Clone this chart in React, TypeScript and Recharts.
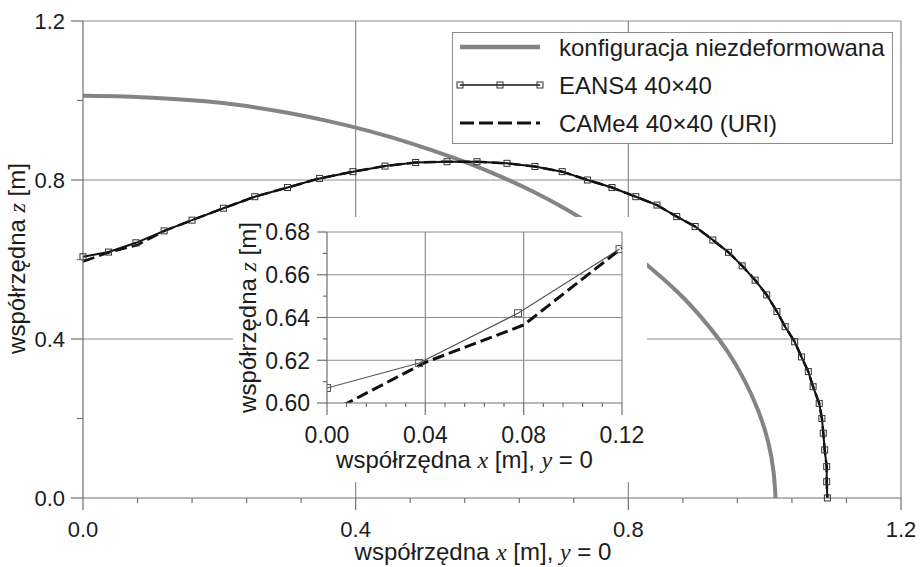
import React from 'react';
import { LineChart, Line, XAxis, YAxis, ReferenceLine, Legend, Label } from 'recharts';

const SANS = '"Liberation Sans", Arial, Helvetica, sans-serif';
const SERIF = '"Liberation Serif", "Times New Roman", serif';
const INK = '#1c1c1c';
const AXIS = '#707070';
const GRID = '#8c8c8c';
const REF_GRAY = '#848484';

// Series names
const NAME_REF = 'konfiguracja niezdeformowana';
const NAME_EANS = 'EANS4 40×40';
const NAME_CAME = 'CAMe4 40×40 (URI)';

// Main chart ticks
const mainXMajor = [0, 0.4, 0.8, 1.2];
const mainXMinor = [0.08, 0.16, 0.24, 0.32, 0.48, 0.56, 0.64, 0.72, 0.88, 0.96, 1.04, 1.12];
const mainYMajor = [0, 0.4, 0.8, 1.2];
const mainYMinor = [0.2, 0.6, 1.0];

// Inset ticks
const insetXMajor = [0, 0.04, 0.08, 0.12];
const insetXMinor = [0.008, 0.016, 0.024, 0.032, 0.048, 0.056, 0.064, 0.072, 0.088, 0.096, 0.104, 0.112];
const insetYMajor = [0.6, 0.62, 0.64, 0.66, 0.68];
const insetYMinor = [0.61, 0.63, 0.65, 0.67];

// Undeformed edge (quarter circle)
const refX = [
  0, 0.06, 0.12, 0.18, 0.24, 0.3, 0.36, 0.42, 0.48, 0.54, 0.6, 0.66,
  0.71, 0.76, 0.8, 0.84, 0.88, 0.915, 0.945, 0.97, 0.99, 1.005, 1.013, 1.016,
];
const refZ = [
  1.012, 1.01, 1.005, 0.998, 0.986, 0.969, 0.948, 0.923, 0.893, 0.858, 0.818, 0.771,
  0.725, 0.672, 0.624, 0.568, 0.505, 0.438, 0.37, 0.297, 0.222, 0.142, 0.066, 0.0,
];

// EANS4 40x40 nodes along the deformed edge
const eansX = [
  0, 0.0375, 0.0777, 0.119, 0.16, 0.206, 0.252, 0.3, 0.347, 0.396, 0.443, 0.488, 0.534, 0.578,
  0.622, 0.663, 0.703, 0.74, 0.776, 0.811, 0.842, 0.871, 0.898, 0.924, 0.947, 0.967, 0.986,
  1.003, 1.018, 1.03, 1.044, 1.054, 1.064, 1.071, 1.08, 1.084, 1.086, 1.088, 1.091, 1.091, 1.092,
];
const eansZ = [
  0.607, 0.6187, 0.642, 0.672, 0.699, 0.729, 0.758, 0.781, 0.804, 0.821, 0.835, 0.844, 0.846, 0.846,
  0.842, 0.834, 0.821, 0.8, 0.781, 0.758, 0.737, 0.708, 0.683, 0.649, 0.618, 0.584, 0.548,
  0.511, 0.469, 0.431, 0.393, 0.355, 0.318, 0.28, 0.238, 0.2, 0.163, 0.121, 0.079, 0.041, 0.0,
];

// CAMe4 40x40 (URI): first nodes near the symmetry axis, the rest coincides with EANS4
const cameHeadX = [0, 0.04, 0.08, 0.12];
const cameHeadZ = [0.595, 0.619, 0.6365, 0.6725];

const zip = (xs: number[], zs: number[]) => xs.map((x, i) => ({ x, z: zs[i] }));

const refData = zip(refX, refZ);
const eansData = zip(eansX, eansZ);
const cameHead = zip(cameHeadX, cameHeadZ);
const cameData = [...cameHead, ...eansData.slice(cameHead.length)];
const eansInset = eansData.slice(0, 4);

const isIn = (v: number, arr: number[]) => arr.some((a) => Math.abs(a - v) < 1e-9);
const sorted = (a: number[], b: number[]) => [...a, ...b].sort((p, q) => p - q);

type TickOpts = { majors: number[]; digits: number; major: number; minor: number; fontSize: number; offset: number };

const bottomTick = (o: TickOpts) => (props: any) => {
  const { x, y, payload } = props;
  const major = isIn(payload.value, o.majors);
  return (
    <g>
      <line x1={x} x2={x} y1={y} y2={y + (major ? o.major : o.minor)} stroke={AXIS} strokeWidth={1.2} />
      {major && (
        <text x={x} y={y + o.offset} textAnchor="middle" fontFamily={SANS} fontSize={o.fontSize} fill={INK}>
          {Number(payload.value).toFixed(o.digits)}
        </text>
      )}
    </g>
  );
};

const leftTick = (o: TickOpts) => (props: any) => {
  const { x, y, payload } = props;
  const major = isIn(payload.value, o.majors);
  return (
    <g>
      <line x1={x} x2={x - (major ? o.major : o.minor)} y1={y} y2={y} stroke={AXIS} strokeWidth={1.2} />
      {major && (
        <text x={x - o.offset} y={y + 0.36 * o.fontSize} textAnchor="end" fontFamily={SANS} fontSize={o.fontSize} fill={INK}>
          {Number(payload.value).toFixed(o.digits)}
        </text>
      )}
    </g>
  );
};

const Italic = ({ children }: { children: React.ReactNode }) => (
  <tspan fontFamily={SERIF} fontStyle="italic">
    {children}
  </tspan>
);

const xTitle = (dx: number, dy: number) => (props: any) => {
  const vb = props.viewBox;
  return (
    <text x={vb.x + vb.width / 2 + dx} y={vb.y + dy} textAnchor="middle" fontFamily={SANS} fontSize={24} fill={INK}>
      współrzędna{' '}
      <Italic>x</Italic>
      {' [m], '}
      <Italic>y</Italic>
      {' = 0'}
    </text>
  );
};

const yTitle = (bx: number, dy: number) => (props: any) => {
  const vb = props.viewBox;
  const cx = vb.x + bx;
  const cy = vb.y + vb.height / 2 + dy;
  return (
    <text x={cx} y={cy} transform={`rotate(-90, ${cx}, ${cy})`} textAnchor="middle" fontFamily={SANS} fontSize={24} fill={INK}>
      współrzędna{' '}
      <Italic>z</Italic>
      {' [m]'}
    </text>
  );
};

const squareDot = (size: number, stroke: string) => (p: any) => (
  <rect key={`sq-${p.index}`} x={p.cx - size / 2} y={p.cy - size / 2} width={size} height={size} fill="none" stroke={stroke} strokeWidth={1} />
);

const LegendBox = () => {
  const rows = [NAME_REF, NAME_EANS, NAME_CAME];
  const centers = [15, 53, 91];
  return (
    <svg width={442} height={113} style={{ display: 'block' }}>
      <rect x={0.5} y={0.5} width={440} height={111} fill="#fff" stroke={GRID} strokeWidth={1} />
      <line x1={8} x2={88} y1={centers[0]} y2={centers[0]} stroke={REF_GRAY} strokeWidth={4.5} />
      <line x1={8} x2={88} y1={centers[1]} y2={centers[1]} stroke="#111" strokeWidth={1.5} />
      {[8, 48, 88].map((x) => (
        <rect key={x} x={x - 3} y={centers[1] - 3} width={6} height={6} fill="none" stroke="#333" strokeWidth={1} />
      ))}
      <line x1={8} x2={88} y1={centers[2]} y2={centers[2]} stroke="#111" strokeWidth={3} strokeDasharray="14 5" />
      {rows.map((r, i) => (
        <text key={r} x={107} y={centers[i] + 8.5} fontFamily={SANS} fontSize={24} fill={INK}>
          {r}
        </text>
      ))}
    </svg>
  );
};

export default function App() {
  return (
    <div style={{ position: 'absolute', left: 0, top: 0, width: 920, height: 567, background: '#fff', overflow: 'hidden' }}>
      <LineChart width={920} height={567} margin={{ top: 21, right: 19, left: 0, bottom: 0 }}>
        <XAxis
          type="number"
          dataKey="x"
          domain={[0, 1.2]}
          ticks={sorted(mainXMajor, mainXMinor)}
          interval={0}
          tickSize={0}
          tickMargin={0}
          tickLine={false}
          axisLine={{ stroke: AXIS, strokeWidth: 1.2 }}
          height={69}
          tick={bottomTick({ majors: mainXMajor, digits: 1, major: 12, minor: 5, fontSize: 22, offset: 39 })}
        >
          <Label content={xTitle(-9, 62)} />
        </XAxis>
        <YAxis
          type="number"
          domain={[0, 1.2]}
          ticks={sorted(mainYMajor, mainYMinor)}
          interval={0}
          tickSize={0}
          tickMargin={0}
          tickLine={false}
          axisLine={{ stroke: AXIS, strokeWidth: 1.2 }}
          width={83}
          tick={leftTick({ majors: mainYMajor, digits: 1, major: 12, minor: 6, fontSize: 22, offset: 18 })}
        >
          <Label content={yTitle(25, -1)} />
        </YAxis>
        {mainXMajor.filter((v) => v > 0).map((v) => (
          <ReferenceLine key={`gx${v}`} x={v} stroke={GRID} strokeWidth={1.2} />
        ))}
        {mainYMajor.filter((v) => v > 0).map((v) => (
          <ReferenceLine key={`gy${v}`} y={v} stroke={GRID} strokeWidth={1.2} />
        ))}
        <Line data={refData} dataKey="z" name={NAME_REF} type="natural" stroke={REF_GRAY} strokeWidth={4} dot={false} isAnimationActive={false} />
        <Line data={cameData} dataKey="z" name={NAME_CAME} type="linear" stroke="#111" strokeWidth={2.5} strokeDasharray="12 5" dot={false} isAnimationActive={false} />
        <Line data={eansData} dataKey="z" name={NAME_EANS} type="linear" stroke="#111" strokeWidth={2} dot={squareDot(6, '#333')} isAnimationActive={false} />
        <Legend layout="horizontal" verticalAlign="middle" align="center" content={() => <LegendBox />} wrapperStyle={{ left: 452, top: 32, width: 442, height: 113, margin: 0 }} />
      </LineChart>

      <div style={{ position: 'absolute', left: 233, top: 217, width: 414, height: 265, background: '#fff' }}>
        <LineChart width={414} height={265} margin={{ top: 15, right: 25, left: 0, bottom: 0 }}>
          <XAxis
            type="number"
            dataKey="x"
            domain={[0, 0.12]}
            allowDataOverflow
            ticks={sorted(insetXMajor, insetXMinor)}
            interval={0}
            tickSize={0}
            tickMargin={0}
            tickLine={false}
            axisLine={{ stroke: AXIS, strokeWidth: 1.2 }}
            height={79}
            tick={bottomTick({ majors: insetXMajor, digits: 2, major: 12, minor: 4, fontSize: 23, offset: 40 })}
          >
            <Label content={xTitle(-10, 65)} />
          </XAxis>
          <YAxis
            type="number"
            domain={[0.6, 0.68]}
            allowDataOverflow
            ticks={sorted(insetYMajor, insetYMinor)}
            interval={0}
            tickSize={0}
            tickMargin={0}
            tickLine={false}
            axisLine={{ stroke: AXIS, strokeWidth: 1.2 }}
            width={94}
            tick={leftTick({ majors: insetYMajor, digits: 2, major: 10, minor: 4, fontSize: 23, offset: 17 })}
          >
            <Label content={yTitle(23, 0)} />
          </YAxis>
          {insetXMajor.filter((v) => v > 0).map((v) => (
            <ReferenceLine key={`ix${v}`} x={v} stroke={GRID} strokeWidth={1.2} />
          ))}
          {insetYMajor.filter((v) => v > 0.6).map((v) => (
            <ReferenceLine key={`iy${v}`} y={v} stroke={GRID} strokeWidth={1.2} />
          ))}
          <Line data={eansInset} dataKey="z" name={NAME_EANS} type="linear" stroke="#555" strokeWidth={1.2} dot={squareDot(7, '#555')} isAnimationActive={false} />
          <Line data={cameHead} dataKey="z" name={NAME_CAME} type="linear" stroke="#111" strokeWidth={3} strokeDasharray="12 5" dot={false} isAnimationActive={false} />
        </LineChart>
      </div>
    </div>
  );
}
